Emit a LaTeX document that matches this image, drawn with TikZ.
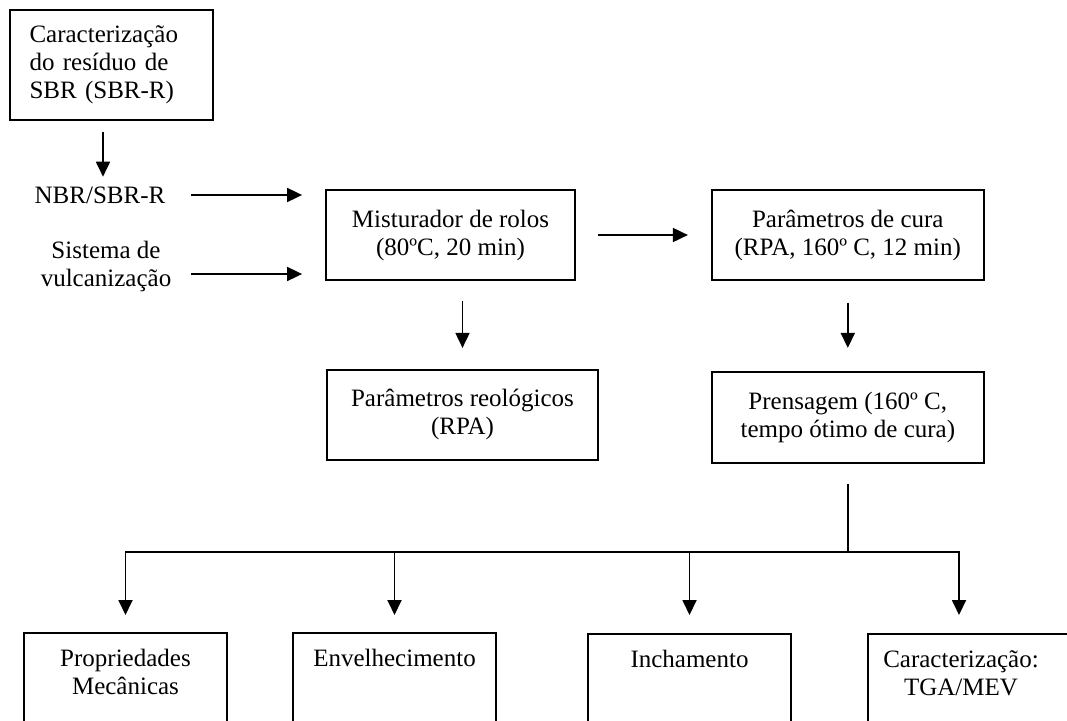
\documentclass[tikz,border=0pt]{standalone}
\usepackage{fontspec}
\setmainfont{Liberation Serif}
\usetikzlibrary{positioning,arrows.meta}

\begin{document}
\begin{tikzpicture}[x=1pt,y=-1pt,line width=1.8pt,font=\fontsize{25}{28}\selectfont,
						box/.style={draw,align=center,minimum height=90pt},
						txt/.style={align=center,inner sep=0pt},
						fim/.style={draw,anchor=north,inner sep=0pt,text width=203pt,align=center,text height=34pt,text depth=130pt},
						arr/.style={-{Triangle[length=15pt,width=14pt]}}]
		\useasboundingbox (0,0) rectangle (1067,720);
		\clip (0,0) rectangle (1067,720);

		\node[box,minimum width=203pt,minimum height=110pt,text width=164pt,align=left]	(carac)	at (111.5,65)	{Caracterização\\do resíduo de\\SBR (SBR-R)};
		\node[txt]																(nbr)	at (100,195)	{NBR/SBR-R};
		\node[txt]																(vulc)	at (106,266)	{Sistema de\\vulcanização};
		\node[box,minimum width=249pt]											(mist)	at (450.5,235)	{Misturador de rolos\\(80ºC, 20 min)};
		\node[box,minimum width=272pt,node distance=135pt,right=of mist]			(cura)		{Parâmetros de cura\\(RPA, 160º C, 12 min)};
		\node[box,minimum width=271pt,below right=88pt and 1pt of mist.south west]	(reol)		{Parâmetros reológicos\\(RPA)};
		\node[box,minimum width=272pt,minimum height=91pt,node distance=90pt,below=of cura]	(pren)		{Prensagem (160º C,\\tempo ótimo de cura)};
		\node[fim]																(prop)	at (125.5,632)	{Propriedades\\Mecânicas};
		\node[fim]																(env)	at (394.5,632)	{Envelhecimento};
		\node[fim]																(inch)	at (689.5,633)	{Inchamento};
		\node[fim]																(carz)	at (969.5,633)	{Caracterização:\kern17pt\\TGA/MEV\kern17pt};

		\coordinate (in1) at ([xshift=25pt]nbr.east);
		\coordinate (in2) at ([xshift=19pt,yshift=-8pt]vulc.east);
		\coordinate (bus) at ([yshift=-88pt]pren.south);
		\coordinate (b4) at ([xshift=-10.5pt]carz.north |- bus);

		\draw[arr] ([xshift=3pt,yshift=-11pt]carac.south -| nbr) -- ([xshift=3pt,yshift=9pt]nbr.north);
		\draw[arr] (in1) -- ([xshift=-23pt]mist.west |- in1);
		\draw[arr] (in2) -- ([xshift=-23pt]mist.west |- in2);
		\draw[arr] ([xshift=22pt]mist.east) -- ([xshift=-23pt]cura.west);
		\draw[arr] ([yshift=-20pt]mist.south -| reol) -- ([yshift=21pt]reol.north);
		\draw[arr] ([yshift=-22pt]cura.south) -- ([yshift=23pt]pren.north);
		\draw ([yshift=-20pt]pren.south) -- (bus);
		\draw[arr] (bus) -| ([yshift=17pt]prop.north);
		\draw[arr] (bus) -| ([yshift=18pt]carz.north -| b4);
		\draw[arr] (env.north |- bus) -- ([yshift=17pt]env.north);
		\draw[arr] (inch.north |- bus) -- ([yshift=18pt]inch.north);
	\end{tikzpicture}
\end{document}
